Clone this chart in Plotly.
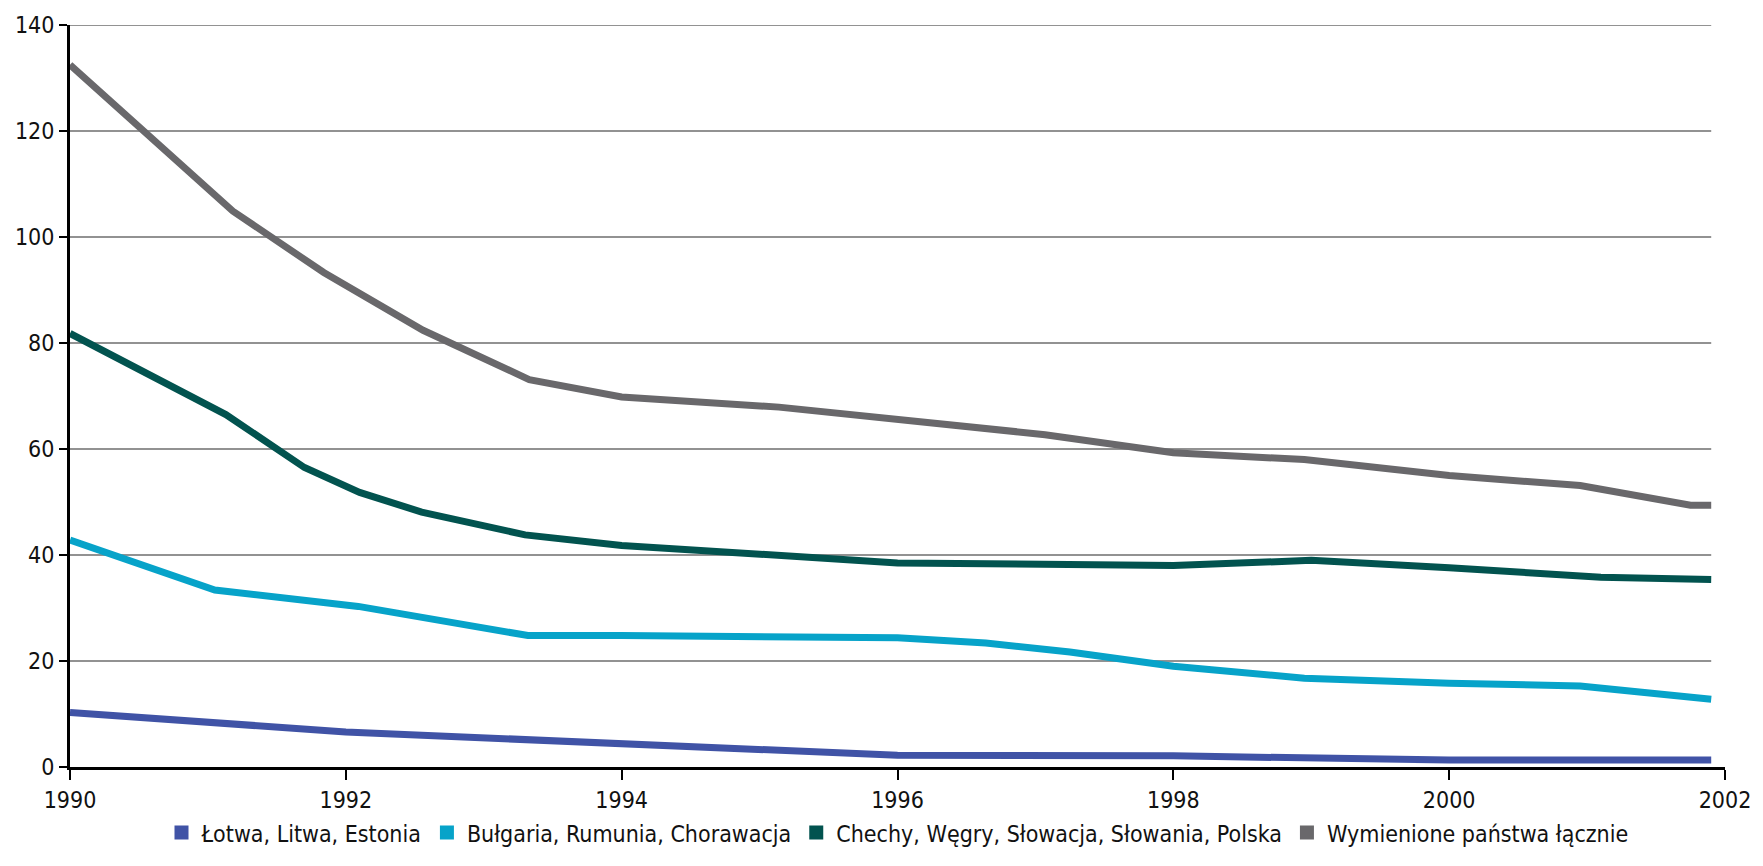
import plotly.graph_objects as go

# Series names (legend order)
names = [
    "Łotwa, Litwa, Estonia",
    "Bułgaria, Rumunia, Chorawacja",
    "Chechy, Węgry, Słowacja, Słowania, Polska",
    "Wymienione państwa łącznie",
]

# Each series: positions along the time axis and values
baltic_x = [1990, 1992, 1996, 1998, 2000, 2001.9]
baltic_y = [10.3, 6.6, 2.2, 2.1, 1.3, 1.3]

balkan_x = [1990, 1991.05, 1992.09, 1993.32, 1994.0, 1996.0, 1996.64, 1997.25, 1998.0,
            1998.95, 2000.0, 2000.95, 2001.9]
balkan_y = [42.8, 33.4, 30.3, 24.8, 24.8, 24.4, 23.4, 21.7, 19.0,
            16.75, 15.8, 15.3, 12.8]

central_x = [1990, 1991.13, 1991.70, 1992.10, 1992.55, 1993.3, 1994.0, 1996.0, 1998.0,
             1999.0, 2000.0, 2001.1, 2001.9]
central_y = [81.8, 66.5, 56.5, 51.8, 48.1, 43.8, 41.8, 38.5, 38.0,
             39.0, 37.6, 35.8, 35.4]

total_x = [1990, 1991.18, 1991.84, 1992.56, 1993.33, 1994.0, 1995.14, 1997.07, 1998.0,
           1998.95, 2000.0, 2000.95, 2001.75, 2001.9]
total_y = [132.5, 104.9, 93.3, 82.4, 73.1, 69.8, 67.9, 62.7, 59.3,
           58.0, 55.0, 53.1, 49.4, 49.4]

colors = ["#4053a6", "#07a3c9", "#02534f", "#69686b"]

x_ticks = [1990, 1992, 1994, 1996, 1998, 2000, 2002]
y_ticks = [0, 20, 40, 60, 80, 100, 120, 140]

FONT = "Liberation Sans Narrow, Arial Narrow, DejaVu Sans Condensed, sans-serif"
TICK_SIZE = 23
LEGEND_SIZE = 23

series = [(baltic_x, baltic_y), (balkan_x, balkan_y), (central_x, central_y), (total_x, total_y)]
last_x = max(max(sx) for sx, _ in series)

fig = go.Figure()

# horizontal gridlines, stopping where the data ends
for yv in y_ticks[1:]:
    fig.add_shape(type="line", xref="x", yref="y", x0=x_ticks[0], x1=last_x, y0=yv, y1=yv,
                  line=dict(color="#6e6e6e", width=1.4), layer="below")

# data lines
for (sx, sy), name, col in zip(series, names, colors):
    fig.add_trace(go.Scatter(x=sx, y=sy, mode="lines", name=name, showlegend=False,
                             line=dict(color=col, width=7), hoverinfo="x+y+name"))

# square legend keys
for name, col in zip(names, colors):
    fig.add_trace(go.Scatter(x=[None], y=[None], mode="markers", name=name,
                             marker=dict(symbol="square", size=14, color=col)))

fig.update_layout(
    width=1763, height=866,
    margin=dict(l=70, r=22, t=19, b=99),
    paper_bgcolor="white", plot_bgcolor="white",
    font=dict(family=FONT, size=TICK_SIZE, color="#111111"),
    showlegend=True,
    legend=dict(orientation="h", x=0.5, xanchor="center", y=-0.0885, yanchor="middle",
                font=dict(family=FONT, size=LEGEND_SIZE, color="#111111"),
                itemwidth=30, bgcolor="rgba(0,0,0,0)"),
    xaxis=dict(range=[x_ticks[0], x_ticks[-1]], tickvals=x_ticks, ticktext=[str(v) for v in x_ticks],
               showgrid=False, zeroline=False, showline=True, linecolor="#000000", linewidth=3,
               ticks="outside", ticklen=10, tickwidth=2, tickcolor="#000000",
               ticklabeloverflow="allow",
               tickfont=dict(family=FONT, size=TICK_SIZE, color="#111111")),
    yaxis=dict(range=[y_ticks[0], y_ticks[-1]], tickvals=y_ticks,
               showgrid=False, zeroline=False, showline=True, linecolor="#000000", linewidth=3,
               ticks="outside", ticklen=8, tickwidth=2, tickcolor="#000000",
               ticklabeloverflow="allow",
               tickfont=dict(family=FONT, size=TICK_SIZE, color="#111111")),
)

fig.write_html("out.html")
